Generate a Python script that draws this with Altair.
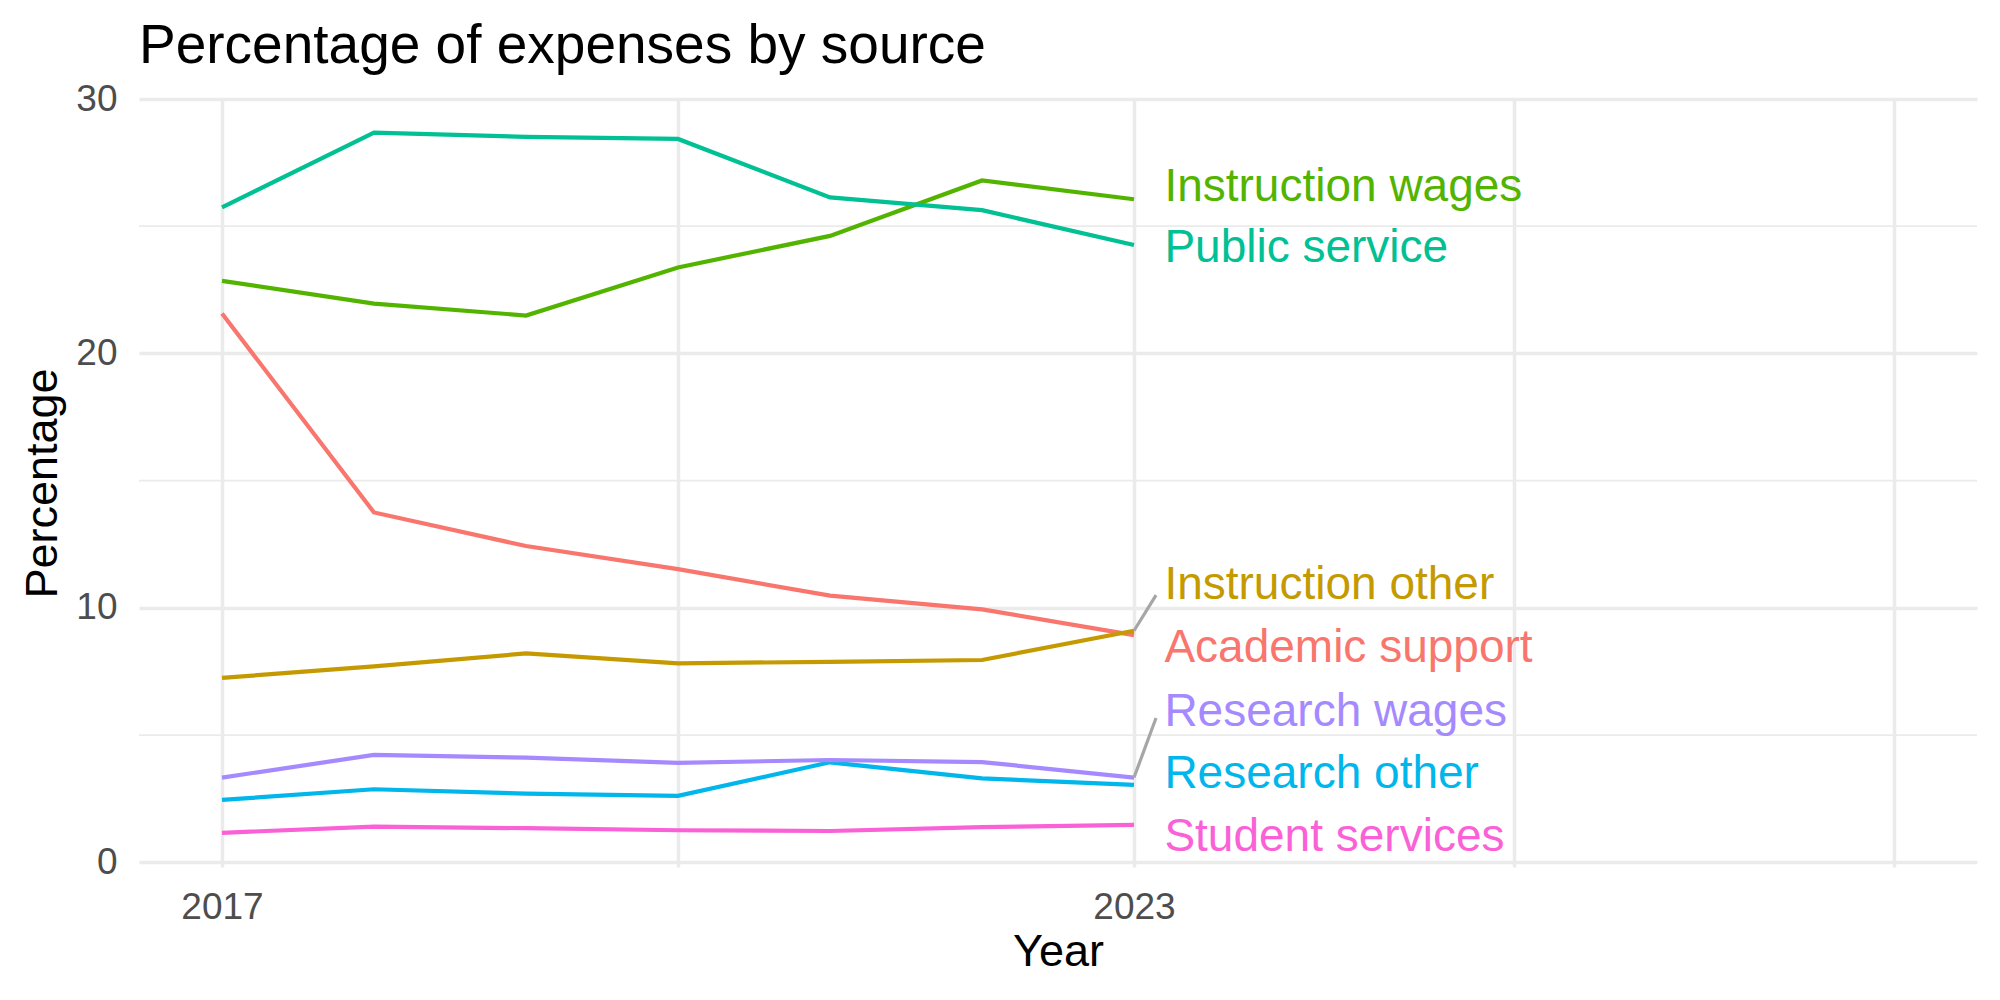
import altair as alt
import pandas as pd

years = [2017, 2018, 2019, 2020, 2021, 2022, 2023]
academic_support = [21.57, 13.75, 12.43, 11.52, 10.48, 9.94, 8.93]
instruction_other = [7.25, 7.70, 8.21, 7.82, 7.88, 7.95, 9.10]
instruction_wages = [22.85, 21.96, 21.49, 23.38, 24.62, 26.80, 26.06]
public_service = [25.74, 28.68, 28.51, 28.43, 26.13, 25.63, 24.26]
research_other = [2.45, 2.87, 2.70, 2.61, 3.93, 3.30, 3.04]
research_wages = [3.33, 4.22, 4.11, 3.91, 4.02, 3.94, 3.33]
student_services = [1.16, 1.40, 1.34, 1.26, 1.23, 1.38, 1.47]

categories = ["Academic support", "Instruction other", "Instruction wages",
              "Public service", "Research other", "Research wages", "Student services"]
colors = ["#F8766D", "#C49A00", "#53B400", "#00C094", "#00B6EB", "#A58AFF", "#FB61D7"]

# repelled label positions (data units)
label_y = [8.42, 10.90, 26.53, 24.14, 3.47, 5.91, 0.99]
label_x = 2023.2

# connector segments for displaced labels
seg_cats = ["Instruction other", "Research wages"]
seg_start_y = [9.10, 3.33]
seg_end_x = [2023.145, 2023.145]
seg_end_y = [10.50, 5.67]

x_grid = [2017, 2020, 2023, 2025.5, 2028]
y_major = [0, 10, 20, 30]
y_minor = [5, 15, 25]

series = [academic_support, instruction_other, instruction_wages, public_service,
          research_other, research_wages, student_services]
rows = []
for cat, vals in zip(categories, series):
    for yr, v in zip(years, vals):
        rows.append({"Year": yr, "Percentage": v, "Source": cat})
df = pd.DataFrame(rows)

lab_df = pd.DataFrame({"Source": categories, "Percentage": label_y,
                       "Year": [label_x] * len(categories)})
seg_df = pd.DataFrame({"Source": seg_cats, "Year": [2023] * len(seg_cats),
                       "Percentage": seg_start_y, "x2": seg_end_x, "y2": seg_end_y})
minor_df = pd.DataFrame({"v": y_minor})

FONT = "Liberation Sans"
xscale = alt.Scale(domain=[2016.454, 2028.546], nice=False, zero=False)
yscale = alt.Scale(domain=[-0.185, 30], nice=False, zero=False)
cscale = alt.Scale(domain=categories, range=colors)

minor = alt.Chart(minor_df).mark_rule(color="#EBEBEB", strokeWidth=1.8).encode(
    y=alt.Y("v:Q", scale=yscale),
    x=alt.value(0), x2=alt.value(1838),
)

lines = alt.Chart(df).mark_line(strokeWidth=4.2).encode(
    x=alt.X("Year:Q", scale=xscale,
            axis=alt.Axis(values=x_grid, title="Year",
                          labelExpr="(datum.value == 2017 || datum.value == 2023) ? format(datum.value, 'd') : ''")),
    y=alt.Y("Percentage:Q", scale=yscale,
            axis=alt.Axis(values=y_major, title="Percentage", format="d")),
    color=alt.Color("Source:N", scale=cscale, legend=None),
    detail="Source:N",
)

segs = alt.Chart(seg_df).mark_rule(color="#A6A6A6", strokeWidth=3.2).encode(
    x=alt.X("Year:Q", scale=xscale), y=alt.Y("Percentage:Q", scale=yscale),
    x2="x2:Q", y2="y2:Q",
)

labels = alt.Chart(lab_df).mark_text(align="left", baseline="middle", fontSize=46, font=FONT).encode(
    x=alt.X("Year:Q", scale=xscale), y=alt.Y("Percentage:Q", scale=yscale),
    text="Source:N",
    color=alt.Color("Source:N", scale=cscale, legend=None),
)

chart = alt.layer(minor, lines, segs, labels).properties(
    width=1838, height=768,
    autosize=alt.AutoSizeParams(type="none"),
    padding={"left": 139, "top": 99, "right": 23, "bottom": 133},
    title=alt.TitleParams("Percentage of expenses by source", anchor="start", frame="group",
                          fontSize=55, fontWeight="normal", font=FONT, color="black",
                          baseline="alphabetic", offset=-38),
).configure_view(stroke=None).configure_axis(
    grid=True, gridColor="#EBEBEB", gridWidth=3.5, domain=False, ticks=False, tickSize=0,
    labelFont=FONT, labelFontSize=37, labelColor="#4D4D4D", labelPadding=22,
    titleFont=FONT, titleFontSize=45, titleFontWeight="normal", titleColor="black",
).configure_axisX(titlePadding=4).configure_axisY(titlePadding=10)

chart.save("out.html", embed_options={"renderer": "svg", "actions": False})
